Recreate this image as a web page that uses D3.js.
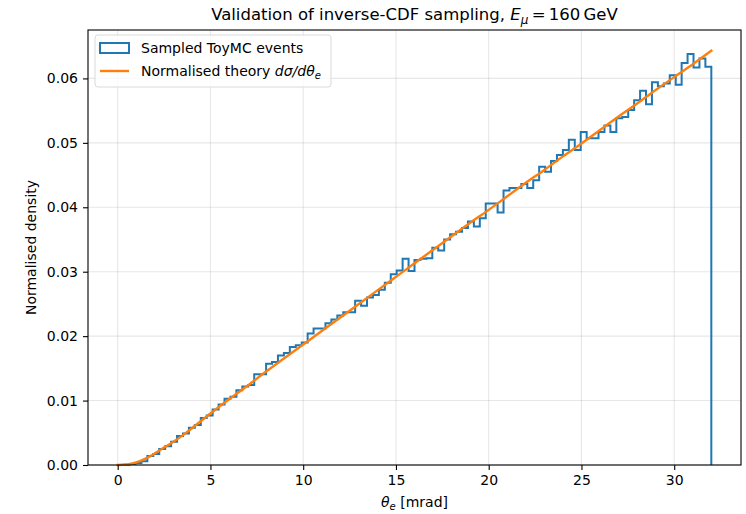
<!DOCTYPE html>
<html>
<head>
<meta charset="utf-8">
<script src="https://cdn.jsdelivr.net/npm/d3@7"></script>
<style>
  body { margin: 0; background: #fff; }
  text { font-family: "DejaVu Sans", sans-serif; fill: #000; }
</style>
</head>
<body>
<script>
// histogram range and bin heights (100 bins, density-normalised)
const binRange = [0, 32];
const histValues = [
    0.00000, 0.00005, 0.00015, 0.00030, 0.00060, 0.00140, 0.00170, 0.00250, 0.00290, 0.00360,
    0.00450, 0.00490, 0.00580, 0.00620, 0.00730, 0.00770, 0.00860, 0.00940, 0.01030, 0.01060,
    0.01160, 0.01220, 0.01240, 0.01410, 0.01410, 0.01570, 0.01600, 0.01700, 0.01740, 0.01830,
    0.01860, 0.01900, 0.02040, 0.02120, 0.02120, 0.02200, 0.02260, 0.02320, 0.02370, 0.02370,
    0.02550, 0.02470, 0.02600, 0.02640, 0.02720, 0.02830, 0.02960, 0.03020, 0.03200, 0.03010,
    0.03180, 0.03200, 0.03210, 0.03370, 0.03330, 0.03500, 0.03580, 0.03620, 0.03680, 0.03780,
    0.03700, 0.03830, 0.04060, 0.04060, 0.03920, 0.04260, 0.04300, 0.04300, 0.04360, 0.04300,
    0.04420, 0.04630, 0.04550, 0.04720, 0.04810, 0.04890, 0.05050, 0.04890, 0.05170, 0.05070,
    0.05070, 0.05170, 0.05270, 0.05170, 0.05380, 0.05400, 0.05510, 0.05660, 0.05810, 0.05600,
    0.05940, 0.05880, 0.05920, 0.06050, 0.05900, 0.06240, 0.06380, 0.06170, 0.06310, 0.06180
];

// theory curve
const theoryTheta = [0, 0.5, 1, 1.5, 2, 2.5, 3, 3.5, 4, 5, 6, 7, 8, 9, 10, 11, 12, 13, 14, 15, 16,
    17, 18, 19, 20, 21, 22, 23, 24, 25, 26, 27, 28, 29, 30, 31, 32];
const theoryDensity = [0, 0.00008, 0.0004, 0.0010, 0.0018, 0.0027, 0.0036, 0.0046, 0.0057, 0.0080,
    0.0102, 0.0123, 0.0145, 0.0166, 0.0187, 0.0208, 0.0229, 0.0250, 0.0271, 0.0292, 0.0313,
    0.0334, 0.0355, 0.0376, 0.0396, 0.0417, 0.0438, 0.0458, 0.0479, 0.0499, 0.0520,
    0.0541, 0.0561, 0.0582, 0.0602, 0.0622, 0.0643];

const xTicks = [0, 5, 10, 15, 20, 25, 30];
const yTicks = [0, 0.01, 0.02, 0.03, 0.04, 0.05, 0.06];

const W = 746, H = 514;
const margin = {top: 30, right: 5, bottom: 49, left: 88};
const width = W - margin.left - margin.right,
    height = H - margin.top - margin.bottom;

const blue = '#1f77b4', orange = '#ff7f0e';

const svg = d3.select('body')
    .append('svg')
    .attr('width', W)
    .attr('height', H);

const g = svg.append('g')
    .attr('transform', 'translate(' + margin.left + ',' + margin.top + ')');

// matplotlib style 5% padding around the data
const xSpan = binRange[1] - binRange[0];
const x = d3.scaleLinear()
    .domain([binRange[0] - 0.05 * xSpan, binRange[1] + 0.05 * xSpan])
    .range([0, width]);
const yMax = d3.max(histValues.concat(theoryDensity));
const y = d3.scaleLinear()
    .domain([0, yMax * 1.05])
    .range([height, 0]);

// grid
g.append('g')
    .selectAll('line')
    .data(xTicks)
    .enter().append('line')
    .attr('x1', d => x(d)).attr('x2', d => x(d))
    .attr('y1', 0).attr('y2', height)
    .attr('stroke', '#b0b0b0')
    .attr('stroke-opacity', 0.3)
    .attr('stroke-width', 1.1);
g.append('g')
    .selectAll('line')
    .data(yTicks)
    .enter().append('line')
    .attr('x1', 0).attr('x2', width)
    .attr('y1', d => y(d)).attr('y2', d => y(d))
    .attr('stroke', '#b0b0b0')
    .attr('stroke-opacity', 0.3)
    .attr('stroke-width', 1.1);

// histogram as a step outline
const nBins = histValues.length;
const binW = xSpan / nBins;
let hp = 'M' + x(binRange[0]) + ',' + y(0);
histValues.forEach(function (v, i) {
    const x0 = x(binRange[0] + i * binW),
        x1 = x(binRange[0] + (i + 1) * binW);
    hp += 'L' + x0 + ',' + y(v) + 'L' + x1 + ',' + y(v);
});
hp += 'L' + x(binRange[1]) + ',' + y(0);

g.append('path')
    .attr('d', hp)
    .attr('fill', 'none')
    .attr('stroke', blue)
    .attr('stroke-width', 2)
    .attr('stroke-linejoin', 'miter');

// theory line
const theory = theoryTheta.map((t, i) => [t, theoryDensity[i]]);
g.append('path')
    .datum(theory)
    .attr('d', d3.line()
        .x(d => x(d[0]))
        .y(d => y(d[1]))
        .curve(d3.curveMonotoneX))
    .attr('fill', 'none')
    .attr('stroke', orange)
    .attr('stroke-width', 2.4)
    .attr('stroke-linecap', 'square');

// axes
const xAxis = g.append('g')
    .attr('transform', 'translate(0,' + height + ')')
    .call(d3.axisBottom(x).tickValues(xTicks).tickSize(5).tickPadding(5).tickFormat(d3.format('d')));
const yAxis = g.append('g')
    .call(d3.axisLeft(y).tickValues(yTicks).tickSize(5).tickPadding(5).tickFormat(d3.format('.2f')));

[xAxis, yAxis].forEach(function (a) {
    a.select('.domain').remove();
    a.selectAll('line').attr('stroke', '#000').attr('stroke-width', 1.1);
    a.selectAll('text')
        .style('font-family', '"DejaVu Sans", sans-serif')
        .style('font-size', '14px')
        .attr('fill', '#000');
});

// frame
g.append('rect')
    .attr('width', width)
    .attr('height', height)
    .attr('fill', 'none')
    .attr('stroke', '#000')
    .attr('stroke-width', 1.1);

// legend
const leg = g.append('g').attr('transform', 'translate(7,5)');
leg.append('rect')
    .attr('width', 236)
    .attr('height', 52)
    .attr('rx', 3)
    .attr('fill', '#fff')
    .attr('fill-opacity', 0.8)
    .attr('stroke', '#d9d9d9')
    .attr('stroke-width', 1);
leg.append('rect')
    .attr('x', 5).attr('y', 8)
    .attr('width', 29).attr('height', 10)
    .attr('fill', 'none')
    .attr('stroke', blue)
    .attr('stroke-width', 2);
leg.append('text')
    .attr('x', 46).attr('y', 18)
    .style('font-size', '14px')
    .text('Sampled ToyMC events');
leg.append('line')
    .attr('x1', 5).attr('x2', 34)
    .attr('y1', 36).attr('y2', 36)
    .attr('stroke', orange)
    .attr('stroke-width', 2.4);
const lt = leg.append('text')
    .attr('x', 46).attr('y', 41)
    .style('font-size', '14px');
lt.append('tspan').text('Normalised theory ');
lt.append('tspan').attr('font-style', 'italic').text('dσ/dθ');
lt.append('tspan').attr('font-style', 'italic').attr('font-size', '10px').attr('dy', 3).text('e');

// title
const title = svg.append('text')
    .attr('x', margin.left + width / 2)
    .attr('y', 20)
    .attr('text-anchor', 'middle')
    .style('font-size', '16.5px');
title.append('tspan').text('Validation of inverse-CDF sampling, ');
title.append('tspan').attr('font-style', 'italic').text('E');
title.append('tspan').attr('font-style', 'italic').attr('font-size', '12px').attr('dy', 4).text('μ');
title.append('tspan').attr('dy', -4).text('\u2009=\u2009160\u2009GeV');

// axis labels
const xl = svg.append('text')
    .attr('x', margin.left + width / 2)
    .attr('y', 507)
    .attr('text-anchor', 'middle')
    .style('font-size', '14px');
xl.append('tspan').attr('font-style', 'italic').text('θ');
xl.append('tspan').attr('font-style', 'italic').attr('font-size', '10px').attr('dy', 3).text('e');
xl.append('tspan').attr('dy', -3).text(' [mrad]');

svg.append('text')
    .attr('transform', 'translate(36,' + (margin.top + height / 2) + ') rotate(-90)')
    .attr('text-anchor', 'middle')
    .style('font-size', '14px')
    .text('Normalised density');
</script>
</body>
</html>
